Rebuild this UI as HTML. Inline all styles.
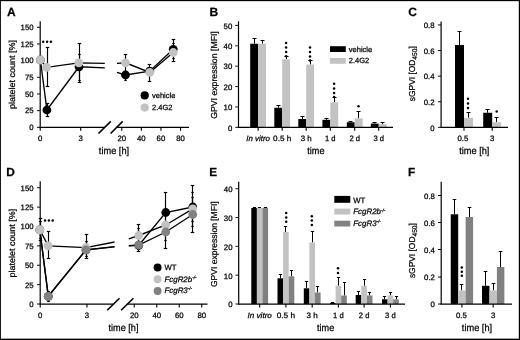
<!DOCTYPE html>
<html><head><meta charset="utf-8"><title>Figure</title>
<style>
html,body{margin:0;padding:0;background:#fff;}
body{width:520px;height:340px;overflow:hidden;font-family:"Liberation Sans",sans-serif;}
svg{display:block;will-change:transform;}
svg .soft{filter:blur(0.3px);}
svg text{stroke:#000;stroke-width:0.25px;text-rendering:geometricPrecision;}
</style></head><body>
<svg width="520" height="340" viewBox="0 0 520 340" font-family="'Liberation Sans', sans-serif">
<rect x="0" y="0" width="520" height="340" fill="#fff"/>
<rect x="0" y="0" width="520" height="1.15" fill="#000"/>
<rect x="0" y="338.65" width="520" height="1.35" fill="#000"/>
<rect x="0" y="0" width="0.9" height="340" fill="#000"/>
<rect x="518.8" y="0" width="1.2" height="340" fill="#000"/>
<g class="soft">
<text x="7.00" y="15.80" font-size="12" text-anchor="start" fill="#000" font-weight="bold">A</text>
<line x1="40.20" y1="21.30" x2="40.20" y2="127.95" stroke="#000" stroke-width="1.2" />
<line x1="37.00" y1="127.35" x2="40.20" y2="127.35" stroke="#000" stroke-width="0.95" />
<text x="33.60" y="130.15" font-size="7.8" text-anchor="end" fill="#000">0</text>
<line x1="37.00" y1="110.67" x2="40.20" y2="110.67" stroke="#000" stroke-width="0.95" />
<text x="33.60" y="113.47" font-size="7.8" text-anchor="end" fill="#000">25</text>
<line x1="37.00" y1="94.00" x2="40.20" y2="94.00" stroke="#000" stroke-width="0.95" />
<text x="33.60" y="96.80" font-size="7.8" text-anchor="end" fill="#000">50</text>
<line x1="37.00" y1="77.32" x2="40.20" y2="77.32" stroke="#000" stroke-width="0.95" />
<text x="33.60" y="80.12" font-size="7.8" text-anchor="end" fill="#000">75</text>
<line x1="37.00" y1="60.65" x2="40.20" y2="60.65" stroke="#000" stroke-width="0.95" />
<text x="33.60" y="63.45" font-size="7.8" text-anchor="end" fill="#000">100</text>
<line x1="37.00" y1="43.97" x2="40.20" y2="43.97" stroke="#000" stroke-width="0.95" />
<text x="33.60" y="46.77" font-size="7.8" text-anchor="end" fill="#000">125</text>
<line x1="37.00" y1="27.30" x2="40.20" y2="27.30" stroke="#000" stroke-width="0.95" />
<text x="33.60" y="30.10" font-size="7.8" text-anchor="end" fill="#000">150</text>
<line x1="39.70" y1="127.35" x2="104.70" y2="127.35" stroke="#000" stroke-width="1.25" />
<line x1="116.10" y1="127.35" x2="189.00" y2="127.35" stroke="#000" stroke-width="1.25" />
<line x1="98.50" y1="133.50" x2="110.80" y2="121.40" stroke="#000" stroke-width="1.6" />
<line x1="110.60" y1="133.50" x2="122.70" y2="121.40" stroke="#000" stroke-width="1.6" />
<line x1="40.20" y1="127.35" x2="40.20" y2="130.75" stroke="#000" stroke-width="1.1" />
<text x="40.20" y="140.50" font-size="7.8" text-anchor="middle" fill="#000">0</text>
<line x1="80.70" y1="127.35" x2="80.70" y2="130.75" stroke="#000" stroke-width="1.1" />
<text x="80.70" y="140.50" font-size="7.8" text-anchor="middle" fill="#000">3</text>
<line x1="121.75" y1="127.35" x2="121.75" y2="130.75" stroke="#000" stroke-width="1.1" />
<text x="121.75" y="140.50" font-size="7.8" text-anchor="middle" fill="#000">20</text>
<line x1="141.35" y1="127.35" x2="141.35" y2="130.75" stroke="#000" stroke-width="1.1" />
<text x="141.35" y="140.50" font-size="7.8" text-anchor="middle" fill="#000">40</text>
<line x1="160.95" y1="127.35" x2="160.95" y2="130.75" stroke="#000" stroke-width="1.1" />
<text x="160.95" y="140.50" font-size="7.8" text-anchor="middle" fill="#000">60</text>
<line x1="180.55" y1="127.35" x2="180.55" y2="130.75" stroke="#000" stroke-width="1.1" />
<text x="180.55" y="140.50" font-size="7.8" text-anchor="middle" fill="#000">80</text>
<text x="114.00" y="154.00" font-size="9.8" text-anchor="middle" fill="#000" textLength="30.3" lengthAdjust="spacingAndGlyphs">time [h]</text>
<text x="15.20" y="74.60" font-size="8.6" text-anchor="middle" fill="#000" textLength="69" lengthAdjust="spacingAndGlyphs" transform="rotate(-90 15.20 74.60)">platelet count [%]</text>
<line x1="47.50" y1="47.50" x2="47.50" y2="86.50" stroke="#000" stroke-width="1.15" />
<line x1="45.75" y1="47.50" x2="49.25" y2="47.50" stroke="#000" stroke-width="1.15" />
<line x1="45.75" y1="86.50" x2="49.25" y2="86.50" stroke="#000" stroke-width="1.15" />
<line x1="47.50" y1="103.50" x2="47.50" y2="116.50" stroke="#000" stroke-width="1.15" />
<line x1="45.75" y1="103.50" x2="49.25" y2="103.50" stroke="#000" stroke-width="1.15" />
<line x1="45.75" y1="116.50" x2="49.25" y2="116.50" stroke="#000" stroke-width="1.15" />
<line x1="79.50" y1="43.50" x2="79.50" y2="82.50" stroke="#000" stroke-width="1.15" />
<line x1="77.75" y1="43.50" x2="81.25" y2="43.50" stroke="#000" stroke-width="1.15" />
<line x1="77.75" y1="82.50" x2="81.25" y2="82.50" stroke="#000" stroke-width="1.15" />
<line x1="79.50" y1="54.50" x2="79.50" y2="80.50" stroke="#000" stroke-width="1.15" />
<line x1="78.30" y1="54.50" x2="80.70" y2="54.50" stroke="#000" stroke-width="1.15" />
<line x1="78.30" y1="80.50" x2="80.70" y2="80.50" stroke="#000" stroke-width="1.15" />
<line x1="125.50" y1="54.50" x2="125.50" y2="71.50" stroke="#000" stroke-width="1.15" />
<line x1="123.75" y1="54.50" x2="127.25" y2="54.50" stroke="#000" stroke-width="1.15" />
<line x1="123.75" y1="71.50" x2="127.25" y2="71.50" stroke="#000" stroke-width="1.15" />
<line x1="125.50" y1="71.50" x2="125.50" y2="80.50" stroke="#000" stroke-width="1.15" />
<line x1="124.30" y1="71.50" x2="126.70" y2="71.50" stroke="#000" stroke-width="1.15" />
<line x1="124.30" y1="80.50" x2="126.70" y2="80.50" stroke="#000" stroke-width="1.15" />
<line x1="149.50" y1="64.50" x2="149.50" y2="81.50" stroke="#000" stroke-width="1.15" />
<line x1="147.75" y1="64.50" x2="151.25" y2="64.50" stroke="#000" stroke-width="1.15" />
<line x1="147.75" y1="81.50" x2="151.25" y2="81.50" stroke="#000" stroke-width="1.15" />
<line x1="173.50" y1="39.50" x2="173.50" y2="61.50" stroke="#000" stroke-width="1.15" />
<line x1="171.75" y1="39.50" x2="175.25" y2="39.50" stroke="#000" stroke-width="1.15" />
<line x1="171.75" y1="61.50" x2="175.25" y2="61.50" stroke="#000" stroke-width="1.15" />
<line x1="173.50" y1="43.50" x2="173.50" y2="58.50" stroke="#000" stroke-width="1.15" />
<line x1="172.30" y1="43.50" x2="174.70" y2="43.50" stroke="#000" stroke-width="1.15" />
<line x1="172.30" y1="58.50" x2="174.70" y2="58.50" stroke="#000" stroke-width="1.15" />
<polyline fill="none" stroke="#000" stroke-width="1.35" points="40.40,60.00 46.90,110.00 79.00,66.80 104.80,67.90"/>
<polyline fill="none" stroke="#000" stroke-width="1.35" points="40.40,60.00 46.60,67.30 78.80,62.90 104.80,63.30"/>
<polyline fill="none" stroke="#000" stroke-width="1.35" points="117.00,72.32 125.50,75.00 149.70,71.20 173.20,49.30"/>
<polyline fill="none" stroke="#000" stroke-width="1.35" points="117.00,63.32 125.50,62.80 149.75,72.40 173.25,52.50"/>
<circle cx="40.40" cy="60.00" r="4.4" fill="#000"/>
<circle cx="46.90" cy="110.00" r="4.4" fill="#000"/>
<circle cx="79.00" cy="66.80" r="4.4" fill="#000"/>
<circle cx="125.50" cy="75.00" r="4.4" fill="#000"/>
<circle cx="149.70" cy="71.20" r="4.4" fill="#000"/>
<circle cx="173.20" cy="49.30" r="4.4" fill="#000"/>
<circle cx="40.40" cy="60.00" r="4.4" fill="#c2c2c2"/>
<circle cx="46.60" cy="67.30" r="4.4" fill="#c2c2c2"/>
<circle cx="78.80" cy="62.90" r="4.4" fill="#c2c2c2"/>
<circle cx="125.50" cy="62.80" r="4.4" fill="#c2c2c2"/>
<circle cx="149.75" cy="72.40" r="4.4" fill="#c2c2c2"/>
<circle cx="173.25" cy="52.50" r="4.4" fill="#c2c2c2"/>
<circle cx="43.20" cy="41.80" r="1.25" fill="#000"/>
<circle cx="47.10" cy="41.80" r="1.25" fill="#000"/>
<circle cx="50.90" cy="41.80" r="1.25" fill="#000"/>
<circle cx="144.70" cy="95.40" r="4.1" fill="#000"/>
<circle cx="144.70" cy="107.60" r="4.1" fill="#c2c2c2"/>
<text x="152.00" y="97.80" font-size="7.5" text-anchor="start" fill="#000">vehicle</text>
<text x="152.00" y="110.30" font-size="7.5" text-anchor="start" fill="#000">2.4G2</text>
<text x="209.60" y="15.90" font-size="12" text-anchor="start" fill="#000" font-weight="bold">B</text>
<line x1="238.50" y1="21.20" x2="238.50" y2="127.95" stroke="#000" stroke-width="1.2" />
<line x1="235.30" y1="127.35" x2="238.50" y2="127.35" stroke="#000" stroke-width="0.95" />
<text x="232.30" y="130.65" font-size="7.8" text-anchor="end" fill="#000">0</text>
<line x1="235.30" y1="106.96" x2="238.50" y2="106.96" stroke="#000" stroke-width="0.95" />
<text x="232.30" y="110.26" font-size="7.8" text-anchor="end" fill="#000">10</text>
<line x1="235.30" y1="86.57" x2="238.50" y2="86.57" stroke="#000" stroke-width="0.95" />
<text x="232.30" y="89.87" font-size="7.8" text-anchor="end" fill="#000">20</text>
<line x1="235.30" y1="66.18" x2="238.50" y2="66.18" stroke="#000" stroke-width="0.95" />
<text x="232.30" y="69.48" font-size="7.8" text-anchor="end" fill="#000">30</text>
<line x1="235.30" y1="45.79" x2="238.50" y2="45.79" stroke="#000" stroke-width="0.95" />
<text x="232.30" y="49.09" font-size="7.8" text-anchor="end" fill="#000">40</text>
<line x1="235.30" y1="25.40" x2="238.50" y2="25.40" stroke="#000" stroke-width="0.95" />
<text x="232.30" y="28.70" font-size="7.8" text-anchor="end" fill="#000">50</text>
<line x1="254.50" y1="38.50" x2="254.50" y2="43.75" stroke="#000" stroke-width="1.0" />
<line x1="252.50" y1="38.50" x2="256.50" y2="38.50" stroke="#000" stroke-width="1.0" />
<line x1="262.50" y1="40.50" x2="262.50" y2="43.75" stroke="#000" stroke-width="1.0" />
<line x1="260.50" y1="40.50" x2="264.50" y2="40.50" stroke="#000" stroke-width="1.0" />
<rect x="250.20" y="43.75" width="7.90" height="83.60" fill="#000"/>
<rect x="258.10" y="43.75" width="7.90" height="83.60" fill="#c2c2c2"/>
<line x1="258.10" y1="127.35" x2="258.10" y2="130.75" stroke="#000" stroke-width="1.1" />
<line x1="278.50" y1="105.50" x2="278.50" y2="107.78" stroke="#000" stroke-width="1.0" />
<line x1="276.50" y1="105.50" x2="280.50" y2="105.50" stroke="#000" stroke-width="1.0" />
<line x1="286.50" y1="56.50" x2="286.50" y2="59.25" stroke="#000" stroke-width="1.0" />
<line x1="284.50" y1="56.50" x2="288.50" y2="56.50" stroke="#000" stroke-width="1.0" />
<rect x="274.30" y="107.78" width="7.90" height="19.57" fill="#000"/>
<rect x="282.20" y="59.25" width="7.90" height="68.10" fill="#c2c2c2"/>
<line x1="282.20" y1="127.35" x2="282.20" y2="130.75" stroke="#000" stroke-width="1.1" />
<line x1="302.50" y1="116.50" x2="302.50" y2="118.99" stroke="#000" stroke-width="1.0" />
<line x1="300.50" y1="116.50" x2="304.50" y2="116.50" stroke="#000" stroke-width="1.0" />
<line x1="310.50" y1="60.50" x2="310.50" y2="64.55" stroke="#000" stroke-width="1.0" />
<line x1="308.50" y1="60.50" x2="312.50" y2="60.50" stroke="#000" stroke-width="1.0" />
<rect x="298.30" y="118.99" width="7.90" height="8.36" fill="#000"/>
<rect x="306.20" y="64.55" width="7.90" height="62.80" fill="#c2c2c2"/>
<line x1="306.20" y1="127.35" x2="306.20" y2="130.75" stroke="#000" stroke-width="1.1" />
<line x1="326.50" y1="118.50" x2="326.50" y2="119.81" stroke="#000" stroke-width="1.0" />
<line x1="324.50" y1="118.50" x2="328.50" y2="118.50" stroke="#000" stroke-width="1.0" />
<line x1="334.50" y1="97.50" x2="334.50" y2="102.27" stroke="#000" stroke-width="1.0" />
<line x1="332.50" y1="97.50" x2="336.50" y2="97.50" stroke="#000" stroke-width="1.0" />
<rect x="322.40" y="119.81" width="7.90" height="7.54" fill="#000"/>
<rect x="330.30" y="102.27" width="7.90" height="25.08" fill="#c2c2c2"/>
<line x1="330.30" y1="127.35" x2="330.30" y2="130.75" stroke="#000" stroke-width="1.1" />
<line x1="350.50" y1="121.50" x2="350.50" y2="122.25" stroke="#000" stroke-width="1.0" />
<line x1="348.50" y1="121.50" x2="352.50" y2="121.50" stroke="#000" stroke-width="1.0" />
<line x1="358.50" y1="111.50" x2="358.50" y2="118.38" stroke="#000" stroke-width="1.0" />
<line x1="356.50" y1="111.50" x2="360.50" y2="111.50" stroke="#000" stroke-width="1.0" />
<rect x="346.80" y="122.25" width="7.90" height="5.10" fill="#000"/>
<rect x="354.70" y="118.38" width="7.90" height="8.97" fill="#c2c2c2"/>
<line x1="354.70" y1="127.35" x2="354.70" y2="130.75" stroke="#000" stroke-width="1.1" />
<line x1="374.50" y1="122.50" x2="374.50" y2="123.58" stroke="#000" stroke-width="1.0" />
<line x1="372.50" y1="122.50" x2="376.50" y2="122.50" stroke="#000" stroke-width="1.0" />
<line x1="382.50" y1="122.50" x2="382.50" y2="124.09" stroke="#000" stroke-width="1.0" />
<line x1="380.50" y1="122.50" x2="384.50" y2="122.50" stroke="#000" stroke-width="1.0" />
<rect x="370.80" y="123.58" width="7.90" height="3.77" fill="#000"/>
<rect x="378.70" y="124.09" width="7.90" height="3.26" fill="#c2c2c2"/>
<line x1="378.70" y1="127.35" x2="378.70" y2="130.75" stroke="#000" stroke-width="1.1" />
<line x1="237.90" y1="127.35" x2="393.00" y2="127.35" stroke="#000" stroke-width="1.25" />
<text x="258.10" y="140.50" font-size="7.8" text-anchor="middle" fill="#000" textLength="23.8" lengthAdjust="spacingAndGlyphs"><tspan font-style='italic'>In vitro</tspan></text>
<text x="282.20" y="140.50" font-size="7.8" text-anchor="middle" fill="#000" textLength="18.2" lengthAdjust="spacingAndGlyphs">0.5 h</text>
<text x="306.20" y="140.50" font-size="7.8" text-anchor="middle" fill="#000" textLength="11" lengthAdjust="spacingAndGlyphs">3 h</text>
<text x="330.30" y="140.50" font-size="7.8" text-anchor="middle" fill="#000" textLength="10.6" lengthAdjust="spacingAndGlyphs">1 d</text>
<text x="354.70" y="140.50" font-size="7.8" text-anchor="middle" fill="#000" textLength="10.6" lengthAdjust="spacingAndGlyphs">2 d</text>
<text x="378.70" y="140.50" font-size="7.8" text-anchor="middle" fill="#000" textLength="10.6" lengthAdjust="spacingAndGlyphs">3 d</text>
<text x="315.90" y="154.00" font-size="9.8" text-anchor="middle" fill="#000" textLength="17.2" lengthAdjust="spacingAndGlyphs">time</text>
<text x="217.30" y="75.00" font-size="8.6" text-anchor="middle" fill="#000" textLength="87.6" lengthAdjust="spacingAndGlyphs" transform="rotate(-90 217.30 75.00)">GPVI expression [MFI]</text>
<circle cx="286.10" cy="42.90" r="1.25" fill="#000"/>
<circle cx="286.10" cy="47.40" r="1.25" fill="#000"/>
<circle cx="286.10" cy="51.90" r="1.25" fill="#000"/>
<circle cx="286.10" cy="56.30" r="1.25" fill="#000"/>
<circle cx="310.00" cy="47.60" r="1.25" fill="#000"/>
<circle cx="310.00" cy="52.00" r="1.25" fill="#000"/>
<circle cx="310.00" cy="56.40" r="1.25" fill="#000"/>
<circle cx="310.00" cy="60.60" r="1.25" fill="#000"/>
<circle cx="334.10" cy="83.80" r="1.25" fill="#000"/>
<circle cx="334.10" cy="88.40" r="1.25" fill="#000"/>
<circle cx="334.10" cy="92.90" r="1.25" fill="#000"/>
<circle cx="334.10" cy="97.00" r="1.25" fill="#000"/>
<circle cx="358.50" cy="106.20" r="1.25" fill="#000"/>
<rect x="330.00" y="46.20" width="15.80" height="5.80" fill="#000"/>
<rect x="330.00" y="58.00" width="15.80" height="5.80" fill="#c2c2c2"/>
<text x="348.80" y="51.60" font-size="7.5" text-anchor="start" fill="#000">vehicle</text>
<text x="348.80" y="63.40" font-size="7.5" text-anchor="start" fill="#000">2.4G2</text>
<text x="408.30" y="15.90" font-size="12" text-anchor="start" fill="#000" font-weight="bold">C</text>
<line x1="441.10" y1="21.60" x2="441.10" y2="127.95" stroke="#000" stroke-width="1.2" />
<line x1="437.90" y1="127.35" x2="441.10" y2="127.35" stroke="#000" stroke-width="0.95" />
<text x="434.60" y="130.55" font-size="7.8" text-anchor="end" fill="#000">0</text>
<line x1="437.90" y1="101.75" x2="441.10" y2="101.75" stroke="#000" stroke-width="0.95" />
<text x="434.60" y="104.95" font-size="7.8" text-anchor="end" fill="#000">0.2</text>
<line x1="437.90" y1="76.15" x2="441.10" y2="76.15" stroke="#000" stroke-width="0.95" />
<text x="434.60" y="79.35" font-size="7.8" text-anchor="end" fill="#000">0.4</text>
<line x1="437.90" y1="50.55" x2="441.10" y2="50.55" stroke="#000" stroke-width="0.95" />
<text x="434.60" y="53.75" font-size="7.8" text-anchor="end" fill="#000">0.6</text>
<line x1="437.90" y1="24.95" x2="441.10" y2="24.95" stroke="#000" stroke-width="0.95" />
<text x="434.60" y="28.15" font-size="7.8" text-anchor="end" fill="#000">0.8</text>
<line x1="459.50" y1="31.50" x2="459.50" y2="45.05" stroke="#000" stroke-width="1.0" />
<line x1="457.50" y1="31.50" x2="461.50" y2="31.50" stroke="#000" stroke-width="1.0" />
<line x1="468.50" y1="112.50" x2="468.50" y2="117.75" stroke="#000" stroke-width="1.0" />
<line x1="466.50" y1="112.50" x2="470.50" y2="112.50" stroke="#000" stroke-width="1.0" />
<rect x="455.00" y="45.05" width="9.00" height="82.30" fill="#000"/>
<rect x="464.00" y="117.75" width="9.00" height="9.60" fill="#c2c2c2"/>
<line x1="464.00" y1="127.35" x2="464.00" y2="130.75" stroke="#000" stroke-width="1.1" />
<line x1="487.50" y1="109.50" x2="487.50" y2="112.76" stroke="#000" stroke-width="1.0" />
<line x1="485.50" y1="109.50" x2="489.50" y2="109.50" stroke="#000" stroke-width="1.0" />
<line x1="496.50" y1="117.50" x2="496.50" y2="122.23" stroke="#000" stroke-width="1.0" />
<line x1="494.50" y1="117.50" x2="498.50" y2="117.50" stroke="#000" stroke-width="1.0" />
<rect x="483.20" y="112.76" width="9.00" height="14.59" fill="#000"/>
<rect x="492.20" y="122.23" width="9.00" height="5.12" fill="#c2c2c2"/>
<line x1="492.20" y1="127.35" x2="492.20" y2="130.75" stroke="#000" stroke-width="1.1" />
<line x1="440.50" y1="127.35" x2="508.00" y2="127.35" stroke="#000" stroke-width="1.25" />
<text x="462.80" y="140.50" font-size="7.8" text-anchor="middle" fill="#000">0.5</text>
<text x="492.10" y="140.50" font-size="7.8" text-anchor="middle" fill="#000">3</text>
<text x="474.30" y="154.00" font-size="9.8" text-anchor="middle" fill="#000" textLength="30.3" lengthAdjust="spacingAndGlyphs">time [h]</text>
<text x="415.30" y="73.70" font-size="8.6" text-anchor="middle" fill="#000" textLength="55" lengthAdjust="spacingAndGlyphs" transform="rotate(-90 415.30 73.70)">sGPVI [OD<tspan font-size="6.8" dy="1.8">450</tspan><tspan dy="-1.8">]</tspan></text>
<circle cx="468.00" cy="98.80" r="1.25" fill="#000"/>
<circle cx="468.00" cy="103.50" r="1.25" fill="#000"/>
<circle cx="468.00" cy="107.90" r="1.25" fill="#000"/>
<circle cx="496.70" cy="111.50" r="1.25" fill="#000"/>
<text x="6.30" y="175.90" font-size="11.8" text-anchor="start" fill="#000" font-weight="bold">D</text>
<line x1="40.20" y1="181.30" x2="40.20" y2="304.60" stroke="#000" stroke-width="1.2" />
<line x1="37.00" y1="304.00" x2="40.20" y2="304.00" stroke="#000" stroke-width="0.95" />
<text x="33.60" y="306.90" font-size="7.8" text-anchor="end" fill="#000">0</text>
<line x1="37.00" y1="284.62" x2="40.20" y2="284.62" stroke="#000" stroke-width="0.95" />
<text x="33.60" y="287.52" font-size="7.8" text-anchor="end" fill="#000">25</text>
<line x1="37.00" y1="265.24" x2="40.20" y2="265.24" stroke="#000" stroke-width="0.95" />
<text x="33.60" y="268.14" font-size="7.8" text-anchor="end" fill="#000">50</text>
<line x1="37.00" y1="245.86" x2="40.20" y2="245.86" stroke="#000" stroke-width="0.95" />
<text x="33.60" y="248.76" font-size="7.8" text-anchor="end" fill="#000">75</text>
<line x1="37.00" y1="226.48" x2="40.20" y2="226.48" stroke="#000" stroke-width="0.95" />
<text x="33.60" y="229.38" font-size="7.8" text-anchor="end" fill="#000">100</text>
<line x1="37.00" y1="207.10" x2="40.20" y2="207.10" stroke="#000" stroke-width="0.95" />
<text x="33.60" y="210.00" font-size="7.8" text-anchor="end" fill="#000">125</text>
<line x1="37.00" y1="187.72" x2="40.20" y2="187.72" stroke="#000" stroke-width="0.95" />
<text x="33.60" y="190.62" font-size="7.8" text-anchor="end" fill="#000">150</text>
<line x1="39.70" y1="304.00" x2="113.00" y2="304.00" stroke="#000" stroke-width="1.25" />
<line x1="128.00" y1="304.00" x2="207.50" y2="304.00" stroke="#000" stroke-width="1.25" />
<line x1="107.20" y1="310.30" x2="119.50" y2="298.20" stroke="#000" stroke-width="1.6" />
<line x1="121.10" y1="310.30" x2="133.40" y2="298.20" stroke="#000" stroke-width="1.6" />
<line x1="40.20" y1="304.00" x2="40.20" y2="307.40" stroke="#000" stroke-width="1.1" />
<text x="40.20" y="317.80" font-size="7.8" text-anchor="middle" fill="#000">0</text>
<line x1="86.95" y1="304.00" x2="86.95" y2="307.40" stroke="#000" stroke-width="1.1" />
<text x="86.95" y="317.80" font-size="7.8" text-anchor="middle" fill="#000">3</text>
<line x1="134.25" y1="304.00" x2="134.25" y2="307.40" stroke="#000" stroke-width="1.1" />
<text x="134.25" y="317.80" font-size="7.8" text-anchor="middle" fill="#000">20</text>
<line x1="156.75" y1="304.00" x2="156.75" y2="307.40" stroke="#000" stroke-width="1.1" />
<text x="156.75" y="317.80" font-size="7.8" text-anchor="middle" fill="#000">40</text>
<line x1="179.25" y1="304.00" x2="179.25" y2="307.40" stroke="#000" stroke-width="1.1" />
<text x="179.25" y="317.80" font-size="7.8" text-anchor="middle" fill="#000">60</text>
<line x1="201.75" y1="304.00" x2="201.75" y2="307.40" stroke="#000" stroke-width="1.1" />
<text x="201.75" y="317.80" font-size="7.8" text-anchor="middle" fill="#000">80</text>
<text x="123.50" y="331.00" font-size="9.8" text-anchor="middle" fill="#000" textLength="30" lengthAdjust="spacingAndGlyphs">time [h]</text>
<text x="15.10" y="243.10" font-size="8.6" text-anchor="middle" fill="#000" textLength="68.6" lengthAdjust="spacingAndGlyphs" transform="rotate(-90 15.10 243.10)">platelet count [%]</text>
<line x1="40.50" y1="218.50" x2="40.50" y2="240.50" stroke="#000" stroke-width="1.15" />
<line x1="38.75" y1="218.50" x2="42.25" y2="218.50" stroke="#000" stroke-width="1.15" />
<line x1="38.75" y1="240.50" x2="42.25" y2="240.50" stroke="#000" stroke-width="1.15" />
<line x1="40.50" y1="221.50" x2="40.50" y2="238.50" stroke="#000" stroke-width="1.15" />
<line x1="39.20" y1="221.50" x2="41.80" y2="221.50" stroke="#000" stroke-width="1.15" />
<line x1="39.20" y1="238.50" x2="41.80" y2="238.50" stroke="#000" stroke-width="1.15" />
<line x1="48.50" y1="231.50" x2="48.50" y2="258.50" stroke="#000" stroke-width="1.15" />
<line x1="46.75" y1="231.50" x2="50.25" y2="231.50" stroke="#000" stroke-width="1.15" />
<line x1="46.75" y1="258.50" x2="50.25" y2="258.50" stroke="#000" stroke-width="1.15" />
<line x1="48.50" y1="291.50" x2="48.50" y2="301.50" stroke="#000" stroke-width="1.15" />
<line x1="47.20" y1="291.50" x2="49.80" y2="291.50" stroke="#000" stroke-width="1.15" />
<line x1="47.20" y1="301.50" x2="49.80" y2="301.50" stroke="#000" stroke-width="1.15" />
<line x1="86.50" y1="234.50" x2="86.50" y2="258.50" stroke="#000" stroke-width="1.15" />
<line x1="84.75" y1="234.50" x2="88.25" y2="234.50" stroke="#000" stroke-width="1.15" />
<line x1="84.75" y1="258.50" x2="88.25" y2="258.50" stroke="#000" stroke-width="1.15" />
<line x1="86.50" y1="241.50" x2="86.50" y2="256.50" stroke="#000" stroke-width="1.15" />
<line x1="85.20" y1="241.50" x2="87.80" y2="241.50" stroke="#000" stroke-width="1.15" />
<line x1="85.20" y1="256.50" x2="87.80" y2="256.50" stroke="#000" stroke-width="1.15" />
<line x1="138.50" y1="224.50" x2="138.50" y2="251.50" stroke="#000" stroke-width="1.15" />
<line x1="136.75" y1="224.50" x2="140.25" y2="224.50" stroke="#000" stroke-width="1.15" />
<line x1="136.75" y1="251.50" x2="140.25" y2="251.50" stroke="#000" stroke-width="1.15" />
<line x1="138.50" y1="228.50" x2="138.50" y2="249.50" stroke="#000" stroke-width="1.15" />
<line x1="137.30" y1="228.50" x2="139.70" y2="228.50" stroke="#000" stroke-width="1.15" />
<line x1="137.30" y1="249.50" x2="139.70" y2="249.50" stroke="#000" stroke-width="1.15" />
<line x1="165.50" y1="192.50" x2="165.50" y2="248.50" stroke="#000" stroke-width="1.15" />
<line x1="163.75" y1="192.50" x2="167.25" y2="192.50" stroke="#000" stroke-width="1.15" />
<line x1="163.75" y1="248.50" x2="167.25" y2="248.50" stroke="#000" stroke-width="1.15" />
<line x1="165.50" y1="214.50" x2="165.50" y2="240.50" stroke="#000" stroke-width="1.15" />
<line x1="164.30" y1="214.50" x2="166.70" y2="214.50" stroke="#000" stroke-width="1.15" />
<line x1="164.30" y1="240.50" x2="166.70" y2="240.50" stroke="#000" stroke-width="1.15" />
<line x1="192.50" y1="185.50" x2="192.50" y2="232.50" stroke="#000" stroke-width="1.15" />
<line x1="190.75" y1="185.50" x2="194.25" y2="185.50" stroke="#000" stroke-width="1.15" />
<line x1="190.75" y1="232.50" x2="194.25" y2="232.50" stroke="#000" stroke-width="1.15" />
<line x1="192.50" y1="192.50" x2="192.50" y2="226.50" stroke="#000" stroke-width="1.15" />
<line x1="191.30" y1="192.50" x2="193.70" y2="192.50" stroke="#000" stroke-width="1.15" />
<line x1="191.30" y1="226.50" x2="193.70" y2="226.50" stroke="#000" stroke-width="1.15" />
<line x1="192.50" y1="197.50" x2="192.50" y2="221.50" stroke="#000" stroke-width="1.15" />
<line x1="191.30" y1="197.50" x2="193.70" y2="197.50" stroke="#000" stroke-width="1.15" />
<line x1="191.30" y1="221.50" x2="193.70" y2="221.50" stroke="#000" stroke-width="1.15" />
<polyline fill="none" stroke="#000" stroke-width="1.35" points="39.80,229.80 48.30,296.30 86.00,249.90 114.50,246.80"/>
<polyline fill="none" stroke="#000" stroke-width="1.35" points="39.80,229.80 48.20,245.80 86.00,247.60 114.50,242.00"/>
<polyline fill="none" stroke="#000" stroke-width="1.35" points="39.80,229.80 48.30,296.30 86.00,249.90 114.50,246.60"/>
<polyline fill="none" stroke="#000" stroke-width="1.35" points="128.80,245.80 138.75,245.30 165.75,212.50 192.75,207.00"/>
<polyline fill="none" stroke="#000" stroke-width="1.35" points="128.80,238.80 138.75,235.50 165.75,225.00 192.75,208.80"/>
<polyline fill="none" stroke="#000" stroke-width="1.35" points="128.80,245.60 138.75,245.00 165.75,232.00 192.75,214.50"/>
<circle cx="39.80" cy="229.80" r="4.4" fill="#000"/>
<circle cx="48.30" cy="296.30" r="4.4" fill="#000"/>
<circle cx="86.00" cy="249.90" r="4.4" fill="#000"/>
<circle cx="138.75" cy="245.30" r="4.4" fill="#000"/>
<circle cx="165.75" cy="212.50" r="4.4" fill="#000"/>
<circle cx="192.75" cy="207.00" r="4.4" fill="#000"/>
<circle cx="39.80" cy="229.80" r="4.4" fill="#c2c2c2"/>
<circle cx="48.20" cy="245.80" r="4.4" fill="#c2c2c2"/>
<circle cx="86.00" cy="247.60" r="4.4" fill="#c2c2c2"/>
<circle cx="138.75" cy="235.50" r="4.4" fill="#c2c2c2"/>
<circle cx="165.75" cy="225.00" r="4.4" fill="#c2c2c2"/>
<circle cx="192.75" cy="208.80" r="4.4" fill="#c2c2c2"/>
<circle cx="39.80" cy="229.80" r="4.4" fill="#818181"/>
<circle cx="48.30" cy="296.30" r="4.4" fill="#818181"/>
<circle cx="86.00" cy="249.90" r="4.4" fill="#818181"/>
<circle cx="138.75" cy="245.00" r="4.4" fill="#818181"/>
<circle cx="165.75" cy="232.00" r="4.4" fill="#818181"/>
<circle cx="192.75" cy="214.50" r="4.4" fill="#818181"/>
<circle cx="39.80" cy="229.80" r="4.4" fill="#c2c2c2"/>
<circle cx="45.00" cy="220.40" r="1.25" fill="#000"/>
<circle cx="48.90" cy="220.40" r="1.25" fill="#000"/>
<circle cx="52.70" cy="220.40" r="1.25" fill="#000"/>
<circle cx="157.60" cy="267.50" r="3.95" fill="#000"/>
<circle cx="157.60" cy="279.20" r="3.95" fill="#c2c2c2"/>
<circle cx="157.60" cy="291.00" r="3.95" fill="#818181"/>
<text x="164.50" y="270.30" font-size="7.7" text-anchor="start" fill="#000">WT</text>
<text x="164.5" y="281.6" font-size="7.9" font-style="italic" fill="#000">FcgR2b<tspan font-size="4.6" dy="-2.8">-/-</tspan></text>
<text x="164.5" y="292.6" font-size="7.9" font-style="italic" fill="#000">FcgR3<tspan font-size="4.6" dy="-2.8">-/-</tspan></text>
<text x="209.30" y="175.90" font-size="11.8" text-anchor="start" fill="#000" font-weight="bold">E</text>
<line x1="238.70" y1="181.80" x2="238.70" y2="304.60" stroke="#000" stroke-width="1.2" />
<line x1="235.50" y1="304.00" x2="238.70" y2="304.00" stroke="#000" stroke-width="0.95" />
<text x="232.50" y="307.40" font-size="7.8" text-anchor="end" fill="#000">0</text>
<line x1="235.50" y1="275.18" x2="238.70" y2="275.18" stroke="#000" stroke-width="0.95" />
<text x="232.50" y="278.58" font-size="7.8" text-anchor="end" fill="#000">10</text>
<line x1="235.50" y1="246.36" x2="238.70" y2="246.36" stroke="#000" stroke-width="0.95" />
<text x="232.50" y="249.76" font-size="7.8" text-anchor="end" fill="#000">20</text>
<line x1="235.50" y1="217.54" x2="238.70" y2="217.54" stroke="#000" stroke-width="0.95" />
<text x="232.50" y="220.94" font-size="7.8" text-anchor="end" fill="#000">30</text>
<line x1="235.50" y1="188.72" x2="238.70" y2="188.72" stroke="#000" stroke-width="0.95" />
<text x="232.50" y="192.12" font-size="7.8" text-anchor="end" fill="#000">40</text>
<line x1="254.50" y1="207.50" x2="254.50" y2="208.00" stroke="#000" stroke-width="1.0" />
<line x1="252.90" y1="207.50" x2="256.10" y2="207.50" stroke="#000" stroke-width="1.0" />
<rect x="251.30" y="208.00" width="5.60" height="96.00" fill="#000"/>
<line x1="259.50" y1="207.50" x2="259.50" y2="208.00" stroke="#000" stroke-width="1.0" />
<line x1="257.90" y1="207.50" x2="261.10" y2="207.50" stroke="#000" stroke-width="1.0" />
<rect x="256.90" y="208.00" width="5.60" height="96.00" fill="#c2c2c2"/>
<line x1="265.50" y1="207.50" x2="265.50" y2="208.00" stroke="#000" stroke-width="1.0" />
<line x1="263.90" y1="207.50" x2="267.10" y2="207.50" stroke="#000" stroke-width="1.0" />
<rect x="262.50" y="208.00" width="5.60" height="96.00" fill="#818181"/>
<line x1="259.70" y1="304.00" x2="259.70" y2="307.40" stroke="#000" stroke-width="1.1" />
<line x1="280.50" y1="274.50" x2="280.50" y2="278.30" stroke="#000" stroke-width="1.0" />
<line x1="278.90" y1="274.50" x2="282.10" y2="274.50" stroke="#000" stroke-width="1.0" />
<rect x="277.50" y="278.30" width="5.60" height="25.70" fill="#000"/>
<line x1="285.50" y1="226.50" x2="285.50" y2="232.00" stroke="#000" stroke-width="1.0" />
<line x1="283.90" y1="226.50" x2="287.10" y2="226.50" stroke="#000" stroke-width="1.0" />
<rect x="283.10" y="232.00" width="5.60" height="72.00" fill="#c2c2c2"/>
<line x1="291.50" y1="270.50" x2="291.50" y2="276.30" stroke="#000" stroke-width="1.0" />
<line x1="289.90" y1="270.50" x2="293.10" y2="270.50" stroke="#000" stroke-width="1.0" />
<rect x="288.70" y="276.30" width="5.60" height="27.70" fill="#818181"/>
<line x1="285.90" y1="304.00" x2="285.90" y2="307.40" stroke="#000" stroke-width="1.1" />
<line x1="306.50" y1="281.50" x2="306.50" y2="288.30" stroke="#000" stroke-width="1.0" />
<line x1="304.90" y1="281.50" x2="308.10" y2="281.50" stroke="#000" stroke-width="1.0" />
<rect x="303.80" y="288.30" width="5.60" height="15.70" fill="#000"/>
<line x1="312.50" y1="231.50" x2="312.50" y2="242.50" stroke="#000" stroke-width="1.0" />
<line x1="310.90" y1="231.50" x2="314.10" y2="231.50" stroke="#000" stroke-width="1.0" />
<rect x="309.40" y="242.50" width="5.60" height="61.50" fill="#c2c2c2"/>
<line x1="317.50" y1="286.50" x2="317.50" y2="292.50" stroke="#000" stroke-width="1.0" />
<line x1="315.90" y1="286.50" x2="319.10" y2="286.50" stroke="#000" stroke-width="1.0" />
<rect x="315.00" y="292.50" width="5.60" height="11.50" fill="#818181"/>
<line x1="312.20" y1="304.00" x2="312.20" y2="307.40" stroke="#000" stroke-width="1.1" />
<line x1="332.50" y1="302.50" x2="332.50" y2="303.00" stroke="#000" stroke-width="1.0" />
<line x1="330.90" y1="302.50" x2="334.10" y2="302.50" stroke="#000" stroke-width="1.0" />
<rect x="330.00" y="303.00" width="5.60" height="1.00" fill="#000"/>
<line x1="338.50" y1="277.50" x2="338.50" y2="285.80" stroke="#000" stroke-width="1.0" />
<line x1="336.90" y1="277.50" x2="340.10" y2="277.50" stroke="#000" stroke-width="1.0" />
<rect x="335.60" y="285.80" width="5.60" height="18.20" fill="#c2c2c2"/>
<line x1="344.50" y1="282.50" x2="344.50" y2="295.50" stroke="#000" stroke-width="1.0" />
<line x1="342.90" y1="282.50" x2="346.10" y2="282.50" stroke="#000" stroke-width="1.0" />
<rect x="341.20" y="295.50" width="5.60" height="8.50" fill="#818181"/>
<line x1="338.40" y1="304.00" x2="338.40" y2="307.40" stroke="#000" stroke-width="1.1" />
<line x1="358.50" y1="291.50" x2="358.50" y2="295.00" stroke="#000" stroke-width="1.0" />
<line x1="356.90" y1="291.50" x2="360.10" y2="291.50" stroke="#000" stroke-width="1.0" />
<rect x="355.70" y="295.00" width="5.60" height="9.00" fill="#000"/>
<line x1="364.50" y1="279.50" x2="364.50" y2="285.80" stroke="#000" stroke-width="1.0" />
<line x1="362.90" y1="279.50" x2="366.10" y2="279.50" stroke="#000" stroke-width="1.0" />
<rect x="361.30" y="285.80" width="5.60" height="18.20" fill="#c2c2c2"/>
<line x1="369.50" y1="292.50" x2="369.50" y2="295.50" stroke="#000" stroke-width="1.0" />
<line x1="367.90" y1="292.50" x2="371.10" y2="292.50" stroke="#000" stroke-width="1.0" />
<rect x="366.90" y="295.50" width="5.60" height="8.50" fill="#818181"/>
<line x1="364.10" y1="304.00" x2="364.10" y2="307.40" stroke="#000" stroke-width="1.1" />
<line x1="384.50" y1="296.50" x2="384.50" y2="299.30" stroke="#000" stroke-width="1.0" />
<line x1="382.90" y1="296.50" x2="386.10" y2="296.50" stroke="#000" stroke-width="1.0" />
<rect x="382.00" y="299.30" width="5.60" height="4.70" fill="#000"/>
<line x1="390.50" y1="292.50" x2="390.50" y2="295.50" stroke="#000" stroke-width="1.0" />
<line x1="388.90" y1="292.50" x2="392.10" y2="292.50" stroke="#000" stroke-width="1.0" />
<rect x="387.60" y="295.50" width="5.60" height="8.50" fill="#c2c2c2"/>
<line x1="396.50" y1="296.50" x2="396.50" y2="299.30" stroke="#000" stroke-width="1.0" />
<line x1="394.90" y1="296.50" x2="398.10" y2="296.50" stroke="#000" stroke-width="1.0" />
<rect x="393.20" y="299.30" width="5.60" height="4.70" fill="#818181"/>
<line x1="390.40" y1="304.00" x2="390.40" y2="307.40" stroke="#000" stroke-width="1.1" />
<line x1="238.10" y1="304.00" x2="405.00" y2="304.00" stroke="#000" stroke-width="1.25" />
<text x="259.70" y="317.80" font-size="7.8" text-anchor="middle" fill="#000" textLength="24.3" lengthAdjust="spacingAndGlyphs"><tspan font-style='italic'>In vitro</tspan></text>
<text x="285.90" y="317.80" font-size="7.8" text-anchor="middle" fill="#000" textLength="18.4" lengthAdjust="spacingAndGlyphs">0.5 h</text>
<text x="312.20" y="317.80" font-size="7.8" text-anchor="middle" fill="#000" textLength="11.2" lengthAdjust="spacingAndGlyphs">3 h</text>
<text x="338.40" y="317.80" font-size="7.8" text-anchor="middle" fill="#000" textLength="10.6" lengthAdjust="spacingAndGlyphs">1 d</text>
<text x="364.10" y="317.80" font-size="7.8" text-anchor="middle" fill="#000" textLength="10.6" lengthAdjust="spacingAndGlyphs">2 d</text>
<text x="390.40" y="317.80" font-size="7.8" text-anchor="middle" fill="#000" textLength="10.6" lengthAdjust="spacingAndGlyphs">3 d</text>
<text x="325.60" y="331.00" font-size="9.8" text-anchor="middle" fill="#000" textLength="17.2" lengthAdjust="spacingAndGlyphs">time</text>
<text x="217.10" y="244.20" font-size="8.6" text-anchor="middle" fill="#000" textLength="85.8" lengthAdjust="spacingAndGlyphs" transform="rotate(-90 217.10 244.20)">GPVI expression [MFI]</text>
<circle cx="286.20" cy="213.00" r="1.25" fill="#000"/>
<circle cx="286.20" cy="217.40" r="1.25" fill="#000"/>
<circle cx="286.20" cy="221.80" r="1.25" fill="#000"/>
<circle cx="311.80" cy="216.30" r="1.25" fill="#000"/>
<circle cx="311.80" cy="220.60" r="1.25" fill="#000"/>
<circle cx="311.80" cy="225.00" r="1.25" fill="#000"/>
<circle cx="338.00" cy="268.30" r="1.25" fill="#000"/>
<circle cx="338.00" cy="273.00" r="1.25" fill="#000"/>
<rect x="334.30" y="195.90" width="16.00" height="6.90" fill="#000"/>
<rect x="334.30" y="208.60" width="16.00" height="5.90" fill="#c2c2c2"/>
<rect x="334.30" y="220.70" width="16.00" height="5.80" fill="#818181"/>
<text x="353.30" y="202.80" font-size="7.7" text-anchor="start" fill="#000">WT</text>
<text x="353.3" y="214.3" font-size="7.9" font-style="italic" fill="#000">FcgR2b<tspan font-size="4.6" dy="-2.8">-/-</tspan></text>
<text x="353.3" y="225.6" font-size="7.9" font-style="italic" fill="#000">FcgR3<tspan font-size="4.6" dy="-2.8">-/-</tspan></text>
<text x="408.00" y="175.90" font-size="11.8" text-anchor="start" fill="#000" font-weight="bold">F</text>
<line x1="441.20" y1="181.80" x2="441.20" y2="304.60" stroke="#000" stroke-width="1.2" />
<line x1="438.00" y1="304.00" x2="441.20" y2="304.00" stroke="#000" stroke-width="0.95" />
<text x="434.90" y="307.00" font-size="7.8" text-anchor="end" fill="#000">0</text>
<line x1="438.00" y1="277.00" x2="441.20" y2="277.00" stroke="#000" stroke-width="0.95" />
<text x="434.90" y="280.00" font-size="7.8" text-anchor="end" fill="#000">0.2</text>
<line x1="438.00" y1="249.50" x2="441.20" y2="249.50" stroke="#000" stroke-width="0.95" />
<text x="434.90" y="252.50" font-size="7.8" text-anchor="end" fill="#000">0.4</text>
<line x1="438.00" y1="222.50" x2="441.20" y2="222.50" stroke="#000" stroke-width="0.95" />
<text x="434.90" y="225.50" font-size="7.8" text-anchor="end" fill="#000">0.6</text>
<line x1="438.00" y1="195.50" x2="441.20" y2="195.50" stroke="#000" stroke-width="0.95" />
<text x="434.90" y="198.50" font-size="7.8" text-anchor="end" fill="#000">0.8</text>
<line x1="454.50" y1="199.50" x2="454.50" y2="214.30" stroke="#000" stroke-width="1.0" />
<line x1="452.70" y1="199.50" x2="456.30" y2="199.50" stroke="#000" stroke-width="1.0" />
<rect x="450.75" y="214.30" width="7.45" height="89.70" fill="#000"/>
<line x1="461.50" y1="284.50" x2="461.50" y2="290.50" stroke="#000" stroke-width="1.0" />
<line x1="459.70" y1="284.50" x2="463.30" y2="284.50" stroke="#000" stroke-width="1.0" />
<rect x="458.20" y="290.50" width="7.45" height="13.50" fill="#c2c2c2"/>
<line x1="469.50" y1="207.50" x2="469.50" y2="217.00" stroke="#000" stroke-width="1.0" />
<line x1="467.70" y1="207.50" x2="471.30" y2="207.50" stroke="#000" stroke-width="1.0" />
<rect x="465.65" y="217.00" width="7.45" height="87.00" fill="#818181"/>
<line x1="461.93" y1="304.00" x2="461.93" y2="307.40" stroke="#000" stroke-width="1.1" />
<line x1="485.50" y1="271.50" x2="485.50" y2="285.80" stroke="#000" stroke-width="1.0" />
<line x1="483.70" y1="271.50" x2="487.30" y2="271.50" stroke="#000" stroke-width="1.0" />
<rect x="482.00" y="285.80" width="7.45" height="18.20" fill="#000"/>
<line x1="493.50" y1="283.50" x2="493.50" y2="290.50" stroke="#000" stroke-width="1.0" />
<line x1="491.70" y1="283.50" x2="495.30" y2="283.50" stroke="#000" stroke-width="1.0" />
<rect x="489.45" y="290.50" width="7.45" height="13.50" fill="#c2c2c2"/>
<line x1="500.50" y1="251.50" x2="500.50" y2="267.00" stroke="#000" stroke-width="1.0" />
<line x1="498.70" y1="251.50" x2="502.30" y2="251.50" stroke="#000" stroke-width="1.0" />
<rect x="496.90" y="267.00" width="7.45" height="37.00" fill="#818181"/>
<line x1="493.18" y1="304.00" x2="493.18" y2="307.40" stroke="#000" stroke-width="1.1" />
<line x1="440.60" y1="304.00" x2="512.00" y2="304.00" stroke="#000" stroke-width="1.25" />
<text x="461.40" y="317.80" font-size="7.8" text-anchor="middle" fill="#000">0.5</text>
<text x="493.20" y="317.80" font-size="7.8" text-anchor="middle" fill="#000">3</text>
<text x="477.00" y="331.00" font-size="9.8" text-anchor="middle" fill="#000" textLength="30.3" lengthAdjust="spacingAndGlyphs">time [h]</text>
<text x="415.00" y="250.60" font-size="8.6" text-anchor="middle" fill="#000" textLength="55" lengthAdjust="spacingAndGlyphs" transform="rotate(-90 415.00 250.60)">sGPVI [OD<tspan font-size="6.8" dy="1.8">450</tspan><tspan dy="-1.8">]</tspan></text>
<circle cx="461.80" cy="267.50" r="1.25" fill="#000"/>
<circle cx="461.80" cy="271.70" r="1.25" fill="#000"/>
<circle cx="461.80" cy="275.80" r="1.25" fill="#000"/>
</g>
</svg>
</body></html>
